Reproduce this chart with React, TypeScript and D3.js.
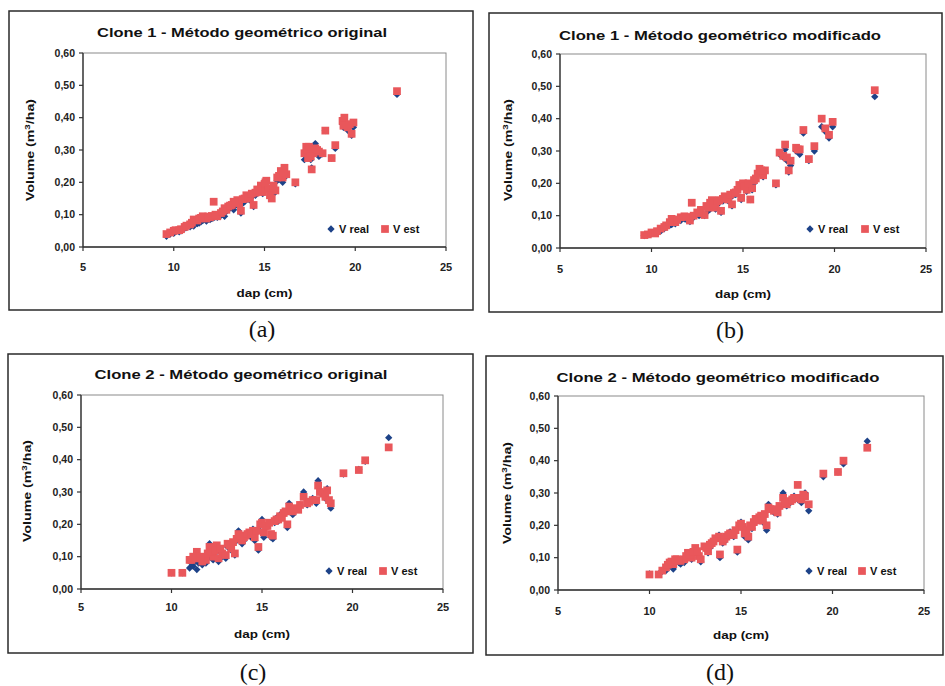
import React from "react";
import * as d3 from "d3";

// dap (cm), real volume and estimated volume (m³/ha) for each panel
const dapA = [9.6, 9.8, 10.0, 10.1, 10.4, 10.6, 10.9, 11.1, 11.3, 11.5, 11.8, 12.0, 12.2, 12.4, 12.6, 12.8, 12.9, 13.0, 13.2, 13.3, 13.5, 13.6, 13.7, 13.9, 14.0, 14.2, 14.4, 14.5, 14.7, 14.8, 14.9, 15.0, 15.1, 15.2, 15.3, 15.4, 15.6, 15.8, 15.9, 16.0, 16.1, 16.2, 16.7, 17.2, 17.3, 17.4, 17.5, 17.6, 17.7, 17.8, 18.0, 18.2, 18.35, 18.7, 18.9, 19.3, 19.4, 19.6, 19.8, 19.9, 22.3,
  10.3, 10.7, 11.0, 11.4, 11.6, 11.9, 12.1, 12.3, 12.7, 13.1, 13.4, 13.8, 14.1, 14.3, 14.6, 15.05, 15.5, 15.7, 16.05, 17.35, 17.45, 17.55, 17.9, 19.35, 19.7];
const realA = [0.033, 0.04, 0.042, 0.048, 0.05, 0.058, 0.062, 0.065, 0.072, 0.078, 0.08, 0.085, 0.09, 0.092, 0.098, 0.095, 0.11, 0.118, 0.125, 0.115, 0.13, 0.14, 0.105, 0.14, 0.15, 0.145, 0.125, 0.16, 0.17, 0.18, 0.165, 0.19, 0.2, 0.185, 0.175, 0.165, 0.17, 0.21, 0.225, 0.2, 0.235, 0.22, 0.195, 0.27, 0.3, 0.285, 0.295, 0.245, 0.3, 0.32, 0.28, 0.288, 0.36, 0.275, 0.305, 0.38, 0.395, 0.36, 0.345, 0.37, 0.472,
  0.047, 0.06, 0.068, 0.074, 0.082, 0.086, 0.088, 0.094, 0.102, 0.12, 0.128, 0.135, 0.148, 0.155, 0.172, 0.195, 0.185, 0.205, 0.22, 0.29, 0.3, 0.27, 0.29, 0.37, 0.375];
const estA = [0.04, 0.045, 0.05, 0.052, 0.055, 0.062, 0.07, 0.085, 0.082, 0.09, 0.088, 0.092, 0.14, 0.095, 0.105, 0.12, 0.115, 0.125, 0.13, 0.14, 0.145, 0.135, 0.112, 0.15, 0.16, 0.15, 0.13, 0.168, 0.175, 0.19, 0.17, 0.195, 0.205, 0.18, 0.16, 0.15, 0.175, 0.22, 0.235, 0.215, 0.245, 0.225, 0.2, 0.29, 0.31, 0.275, 0.3, 0.24, 0.29, 0.305, 0.295, 0.29, 0.36, 0.275, 0.315, 0.39, 0.4, 0.37, 0.35, 0.385, 0.482,
  0.052, 0.066, 0.075, 0.088, 0.095, 0.094, 0.096, 0.1, 0.11, 0.128, 0.138, 0.148, 0.155, 0.165, 0.178, 0.2, 0.19, 0.215, 0.23, 0.3, 0.31, 0.28, 0.3, 0.375, 0.38];

const dapB = [9.6, 9.8, 10.0, 10.2, 10.5, 10.8, 11.1, 11.3, 11.6, 11.8, 12.1, 12.2, 12.5, 12.7, 12.9, 13.0, 13.2, 13.3, 13.5, 13.7, 13.8, 14.0, 14.2, 14.4, 14.5, 14.7, 14.8, 14.9, 15.0, 15.2, 15.4, 15.5, 15.7, 15.8, 15.9, 16.1, 16.2, 16.8, 17.0, 17.2, 17.3, 17.5, 17.6, 17.9, 18.1, 18.3, 18.6, 18.9, 19.3, 19.5, 19.7, 19.9, 22.2,
  10.3, 10.7, 11.0, 11.4, 11.9, 12.3, 12.6, 13.1, 13.4, 13.6, 13.9, 14.1, 14.3, 14.6, 15.1, 15.3, 15.6, 16.0, 17.4, 18.0];
const realB = [0.038, 0.04, 0.045, 0.046, 0.052, 0.065, 0.072, 0.075, 0.085, 0.09, 0.082, 0.1, 0.105, 0.11, 0.1, 0.125, 0.12, 0.14, 0.12, 0.14, 0.11, 0.155, 0.145, 0.13, 0.165, 0.175, 0.19, 0.15, 0.2, 0.175, 0.15, 0.18, 0.21, 0.225, 0.24, 0.22, 0.235, 0.195, 0.29, 0.28, 0.305, 0.235, 0.255, 0.3, 0.29, 0.355, 0.27, 0.3, 0.375, 0.36, 0.34, 0.375, 0.468,
  0.05, 0.06, 0.07, 0.08, 0.088, 0.095, 0.1, 0.115, 0.13, 0.135, 0.145, 0.15, 0.155, 0.165, 0.185, 0.19, 0.2, 0.23, 0.27, 0.3];
const estB = [0.04, 0.042, 0.048, 0.045, 0.06, 0.07, 0.09, 0.08, 0.095, 0.098, 0.085, 0.14, 0.11, 0.118, 0.102, 0.13, 0.14, 0.148, 0.125, 0.148, 0.115, 0.16, 0.15, 0.135, 0.17, 0.18, 0.195, 0.155, 0.2, 0.18, 0.15, 0.185, 0.215, 0.23, 0.245, 0.225, 0.24, 0.2, 0.295, 0.285, 0.32, 0.24, 0.27, 0.31, 0.305, 0.365, 0.275, 0.315, 0.4, 0.37, 0.35, 0.39, 0.488,
  0.052, 0.065, 0.08, 0.088, 0.096, 0.1, 0.108, 0.125, 0.138, 0.145, 0.152, 0.158, 0.165, 0.172, 0.19, 0.2, 0.21, 0.24, 0.28, 0.305];

const dapC = [10.0, 10.6, 11.0, 11.2, 11.4, 11.5, 11.7, 11.9, 12.0, 12.1, 12.3, 12.5, 12.6, 12.8, 13.0, 13.1, 13.3, 13.5, 13.6, 13.7, 13.9, 14.1, 14.3, 14.5, 14.6, 14.8, 14.9, 15.0, 15.1, 15.3, 15.5, 15.6, 15.8, 16.0, 16.2, 16.4, 16.5, 16.7, 17.0, 17.3, 17.5, 17.8, 18.0, 18.1, 18.4, 18.6, 18.8, 19.5, 20.35, 20.7, 22.0,
  11.1, 11.3, 11.6, 12.2, 12.4, 12.7, 13.2, 13.4, 13.8, 14.0, 14.2, 14.4, 14.7, 15.2, 15.4, 15.7, 15.9, 16.1, 16.3, 16.6, 16.9, 17.1, 17.6, 18.2, 18.5, 18.7];
const realC = [0.05, 0.05, 0.065, 0.07, 0.06, 0.08, 0.075, 0.08, 0.095, 0.14, 0.09, 0.125, 0.085, 0.1, 0.095, 0.13, 0.12, 0.105, 0.15, 0.18, 0.14, 0.16, 0.17, 0.185, 0.15, 0.12, 0.195, 0.215, 0.16, 0.2, 0.16, 0.155, 0.22, 0.23, 0.24, 0.19, 0.265, 0.23, 0.25, 0.3, 0.26, 0.28, 0.265, 0.335, 0.29, 0.31, 0.25, 0.355, 0.37, 0.395, 0.468,
  0.08, 0.085, 0.09, 0.1, 0.11, 0.115, 0.13, 0.14, 0.16, 0.15, 0.165, 0.16, 0.175, 0.19, 0.2, 0.205, 0.21, 0.225, 0.235, 0.24, 0.245, 0.26, 0.27, 0.3, 0.28, 0.27];
const estC = [0.05, 0.05, 0.09, 0.1, 0.115, 0.095, 0.085, 0.09, 0.11, 0.13, 0.1, 0.135, 0.095, 0.11, 0.105, 0.14, 0.125, 0.11, 0.155, 0.17, 0.15, 0.165, 0.175, 0.18, 0.16, 0.13, 0.2, 0.205, 0.175, 0.195, 0.17, 0.165, 0.215, 0.225, 0.235, 0.2, 0.255, 0.24, 0.245, 0.285, 0.265, 0.275, 0.275, 0.32, 0.295, 0.305, 0.265, 0.358, 0.368, 0.398, 0.438,
  0.09, 0.095, 0.1, 0.115, 0.12, 0.125, 0.135, 0.145, 0.165, 0.16, 0.17, 0.17, 0.18, 0.195, 0.205, 0.21, 0.215, 0.22, 0.24, 0.245, 0.25, 0.26, 0.27, 0.3, 0.285, 0.275];

const dapD = [10.0, 10.5, 10.9, 11.1, 11.3, 11.5, 11.7, 11.9, 12.1, 12.3, 12.5, 12.7, 12.8, 13.0, 13.2, 13.4, 13.6, 13.8, 13.85, 14.0, 14.2, 14.4, 14.6, 14.8, 14.9, 15.0, 15.2, 15.4, 15.6, 15.8, 16.0, 16.2, 16.4, 16.5, 16.8, 17.0, 17.3, 17.5, 17.7, 17.9, 18.1, 18.3, 18.5, 18.7, 19.5, 20.3, 20.6, 21.9,
  10.7, 11.0, 11.2, 11.4, 11.6, 12.0, 12.2, 12.4, 12.6, 13.1, 13.3, 13.5, 14.1, 14.3, 14.5, 14.7, 15.1, 15.3, 15.5, 15.7, 15.9, 16.1, 16.3, 16.6, 16.9, 17.1, 17.4, 17.8, 18.2, 18.4];
const realD = [0.05, 0.05, 0.06, 0.075, 0.065, 0.09, 0.08, 0.085, 0.11, 0.095, 0.12, 0.1, 0.087, 0.13, 0.115, 0.14, 0.155, 0.17, 0.1, 0.145, 0.16, 0.18, 0.165, 0.117, 0.2, 0.21, 0.165, 0.155, 0.19, 0.22, 0.23, 0.21, 0.185, 0.265, 0.24, 0.235, 0.3, 0.26, 0.27, 0.29, 0.28, 0.27, 0.3, 0.245, 0.35, 0.365, 0.39, 0.46,
  0.058, 0.07, 0.08, 0.088, 0.085, 0.1, 0.105, 0.11, 0.115, 0.125, 0.13, 0.145, 0.15, 0.165, 0.17, 0.18, 0.19, 0.18, 0.2, 0.205, 0.215, 0.225, 0.23, 0.25, 0.245, 0.255, 0.27, 0.285, 0.28, 0.29];
const estD = [0.048, 0.048, 0.07, 0.085, 0.08, 0.095, 0.09, 0.095, 0.115, 0.1, 0.13, 0.105, 0.095, 0.135, 0.12, 0.145, 0.16, 0.165, 0.11, 0.15, 0.165, 0.175, 0.17, 0.125, 0.2, 0.205, 0.175, 0.165, 0.195, 0.22, 0.225, 0.215, 0.2, 0.255, 0.245, 0.24, 0.285, 0.265, 0.275, 0.285, 0.325, 0.28, 0.29, 0.265, 0.36, 0.365, 0.4, 0.44,
  0.06, 0.078, 0.088, 0.095, 0.092, 0.105, 0.11, 0.118, 0.12, 0.13, 0.14, 0.15, 0.158, 0.17, 0.175, 0.185, 0.195, 0.185, 0.2, 0.21, 0.215, 0.23, 0.235, 0.25, 0.25, 0.26, 0.27, 0.28, 0.285, 0.295];

const titles = [
  "Clone 1 - Método geométrico original",
  "Clone 1 - Método geométrico modificado",
  "Clone 2 - Método geométrico original",
  "Clone 2 - Método geométrico modificado",
];
const panelLetters = ["(a)", "(b)", "(c)", "(d)"];
const xTicks = [5, 10, 15, 20, 25];
const yTicks = [0, 0.1, 0.2, 0.3, 0.4, 0.5, 0.6];
const seriesNames = ["V real", "V est"];

const BLUE = "#1d4288";
const RED = "#e9575b";
const SANS = "Arial, 'Liberation Sans', sans-serif";

type Box = {
  frame: [number, number, number, number];
  plot: [number, number, number, number]; // left, top, right, bottom
  titleX: number; titleY: number; titleW: number;
  yLabX: number; yLabY: number;
  xLabY: number; xTickY: number;
  legX: number; legY: number; legGap: number;
  letterX: number; letterY: number;
};

const boxes: Box[] = [
  { frame: [9, 11, 473, 310], plot: [83, 53, 446, 247], titleX: 242, titleY: 37, titleW: 290, yLabX: 34, yLabY: 150, xLabY: 297, xTickY: 271, legX: 331, legY: 229, legGap: 54, letterX: 262, letterY: 337 },
  { frame: [489, 13, 942, 312], plot: [560, 54, 926, 248], titleX: 720, titleY: 40, titleW: 322, yLabX: 512, yLabY: 150, xLabY: 298, xTickY: 273, legX: 810, legY: 229, legGap: 55, letterX: 730, letterY: 338 },
  { frame: [8, 354, 473, 653], plot: [81, 395, 443, 589], titleX: 241, titleY: 379, titleW: 293, yLabX: 31, yLabY: 491, xLabY: 638, xTickY: 611, legX: 329, legY: 571, legGap: 54, letterX: 253, letterY: 680 },
  { frame: [486, 356, 943, 655], plot: [558, 396, 924, 590], titleX: 718, titleY: 382, titleW: 323, yLabX: 511, yLabY: 493, xLabY: 639, xTickY: 615, legX: 809, legY: 571, legGap: 53, letterX: 720, letterY: 680 },
];

const panelData = [
  { dap: dapA, real: realA, est: estA },
  { dap: dapB, real: realB, est: estB },
  { dap: dapC, real: realC, est: estC },
  { dap: dapD, real: realD, est: estD },
];

const diamond = d3.symbol().type(d3.symbolDiamond2).size(34)() as string;
const square = d3.symbol().type(d3.symbolSquare).size(60)() as string;
const fmt = (v: number) => d3.format(".2f")(v).replace(".", ",");

function Panel({ i }: { i: number }) {
  const b = boxes[i];
  const { dap, real, est } = panelData[i];
  const [l, t, r, bt] = b.plot;
  const x = d3.scaleLinear().domain([5, 25]).range([l, r]);
  const y = d3.scaleLinear().domain([0, 0.6]).range([bt, t]);
  const [fx0, fy0, fx1, fy1] = b.frame;
  return (
    <g>
      <rect x={fx0} y={fy0} width={fx1 - fx0} height={fy1 - fy0} fill="white" stroke="#2a2a2a" strokeWidth={1.5} />
      <text x={b.titleX} y={b.titleY} textAnchor="middle" fontFamily={SANS} fontWeight="bold" fontSize={12.5}
        textLength={b.titleW} lengthAdjust="spacingAndGlyphs" fill="#111">{titles[i]}</text>
      {/* plot area frame */}
      <rect x={l} y={t} width={r - l} height={bt - t} fill="none" stroke="#8a8a8a" strokeWidth={1} />
      <line x1={l} x2={l} y1={t} y2={bt} stroke="#333" strokeWidth={1.3} />
      <line x1={l} x2={r} y1={bt} y2={bt} stroke="#333" strokeWidth={1.3} />
      {yTicks.map((v) => (
        <g key={"y" + v}>
          <line x1={l - 4} x2={l} y1={y(v)} y2={y(v)} stroke="#333" strokeWidth={1.2} />
          <text x={l - 8} y={y(v)} dy="0.35em" textAnchor="end" fontFamily={SANS} fontSize={10.5} fontWeight="bold" fill="#222">{fmt(v)}</text>
        </g>
      ))}
      {xTicks.map((v) => (
        <g key={"x" + v}>
          <line x1={x(v)} x2={x(v)} y1={bt} y2={bt + 4} stroke="#333" strokeWidth={1.2} />
          <text x={x(v)} y={b.xTickY} textAnchor="middle" fontFamily={SANS} fontSize={11} fontWeight="bold" fill="#222">{v}</text>
        </g>
      ))}
      <text x={(l + r) / 2} y={b.xLabY} textAnchor="middle" fontFamily={SANS} fontSize={11.5} fontWeight="bold"
        textLength={56} lengthAdjust="spacingAndGlyphs" fill="#111">dap (cm)</text>
      <text transform={`translate(${b.yLabX},${b.yLabY}) rotate(-90)`} textAnchor="middle" fontFamily={SANS} fontSize={11.5}
        fontWeight="bold" textLength={102} lengthAdjust="spacingAndGlyphs" fill="#111">
        Volume (m<tspan dy={-4} fontSize={8}>3</tspan><tspan dy={4}>/ha)</tspan>
      </text>
      {dap.map((d, k) => (
        <path key={"r" + k} d={diamond} transform={`translate(${x(d)},${y(real[k])})`} fill={BLUE} />
      ))}
      {dap.map((d, k) => (
        <path key={"e" + k} d={square} transform={`translate(${x(d)},${y(est[k])})`} fill={RED} />
      ))}
      {/* legend */}
      <path d={diamond} transform={`translate(${b.legX},${b.legY})`} fill={BLUE} />
      <text x={b.legX + 8} y={b.legY} dy="0.35em" fontFamily={SANS} fontSize={11} fontWeight="bold" fill="#111">{seriesNames[0]}</text>
      <path d={square} transform={`translate(${b.legX + b.legGap},${b.legY})`} fill={RED} />
      <text x={b.legX + b.legGap + 8} y={b.legY} dy="0.35em" fontFamily={SANS} fontSize={11} fontWeight="bold" fill="#111">{seriesNames[1]}</text>
      <text x={b.letterX} y={b.letterY} textAnchor="middle" fontFamily="'Liberation Serif', 'Times New Roman', serif" fontSize={24} fill="#111">{panelLetters[i]}</text>
    </g>
  );
}

export default function App() {
  return (
    <svg width={945} height={686} style={{ position: "absolute", left: 0, top: 0, background: "white" }}>
      {boxes.map((_, i) => (
        <Panel key={i} i={i} />
      ))}
    </svg>
  );
}
